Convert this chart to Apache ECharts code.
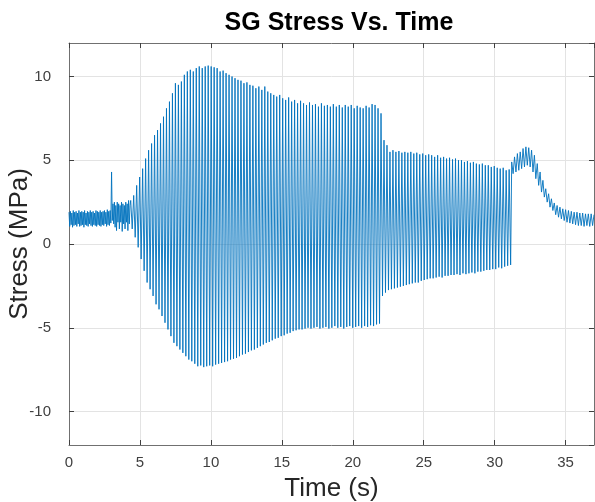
<!DOCTYPE html>
<html>
<head>
<meta charset="utf-8">
<script src="https://cdn.jsdelivr.net/npm/echarts@6/dist/echarts.min.js"></script>
<style>
html,body{margin:0;padding:0;background:#fff;}
#chart{width:595px;height:502px;}
</style>
</head>
<body>
<div id="chart"></div>
<script>
// ---- Data ----
const titleText = 'SG Stress Vs. Time';
const xName = 'Time (s)';
const yName = 'Stress (MPa)';
const xTicks = [0, 5, 10, 15, 20, 25, 30, 35];
const yTicks = [-10, -5, 0, 5, 10];

// quiet start (0 s to 4.30 s, every 0.05 s), spike at 3.0 s
const preStart = 0;
const preStep = 0.05;
const preValues = [
  1.9,1.05,1.95,1.15,1.85,1.0,2.0,1.1,1.9,1.15,1.95,1.05,1.85,1.2,2.0,1.05,1.9,1.1,1.95,1.15,
  1.9,1.0,2.0,1.15,1.85,1.1,1.95,1.05,1.9,1.2,2.0,1.1,1.9,1.05,1.95,1.15,1.85,1.1,2.0,1.05,
  1.95,1.15,1.9,1.1,2.0,1.05,1.9,1.15,1.95,1.1,2.0,1.2,1.9,1.05,2.05,1.15,1.95,1.1,2.0,1.25,
  4.3,1.4,2.4,1.2,2.5,1.0,2.3,0.8,2.5,1.3,2.4,0.9,2.3,1.3,2.5,0.75,2.4,1.2,2.3,0.9,
  2.5,1.3,2.4,0.8,2.6,1.2,2.3
];

// big oscillation: one peak and one trough per cycle
const cycleStart = 4.35;
const cyclePeriod = 0.21;
const peakValues = [
  2.6,2.9,3.5,4.0,4.5,5.1,5.6,6.0,6.5,6.8,
  7.2,7.6,8.1,8.5,9.0,9.6,9.5,9.7,10.1,10.3,
  10.4,10.3,10.5,10.6,10.5,10.6,10.65,10.6,10.55,10.5,
  10.3,10.35,10.2,10.1,10.0,9.9,9.8,9.75,9.6,9.65,
  9.5,9.45,9.3,9.4,9.2,9.4,9.1,9.0,8.9,8.8,
  8.9,8.7,8.6,8.75,8.5,8.6,8.4,8.55,8.4,8.3,
  8.45,8.3,8.35,8.2,8.4,8.25,8.3,8.2,8.35,8.2,
  8.3,8.15,8.3,8.2,8.3,8.1,8.25,8.15,8.1,8.25,
  8.15,8.35,8.3,8.1,7.8,6.2,5.9,5.5,5.6,5.5,
  5.55,5.45,5.5,5.45,5.5,5.4,5.45,5.35,5.4,5.3,
  5.35,5.3,5.2,5.3,5.15,5.2,5.1,5.15,5.05,5.1,
  5.0,5.0,4.9,4.95,4.85,4.9,4.8,4.75,4.8,4.7,
  4.7,4.6,4.65,4.55,4.5,4.55,4.4,4.45
];
const troughValues = [
  0.9,0.4,-0.2,-0.9,-1.6,-2.3,-2.7,-3.1,-3.6,-3.9,
  -4.3,-4.7,-5.1,-5.5,-5.9,-6.1,-6.3,-6.5,-6.7,-6.9,
  -7.0,-7.15,-7.3,-7.25,-7.35,-7.3,-7.25,-7.3,-7.2,-7.15,
  -7.1,-7.05,-7.0,-6.9,-6.85,-6.8,-6.7,-6.6,-6.55,-6.45,
  -6.35,-6.3,-6.2,-6.1,-6.0,-5.9,-5.85,-5.75,-5.65,-5.6,
  -5.5,-5.45,-5.35,-5.3,-5.2,-5.15,-5.1,-5.1,-5.05,-5.0,
  -5.05,-5.0,-4.95,-5.05,-5.0,-4.95,-5.05,-5.0,-4.9,-5.0,
  -4.95,-5.05,-4.95,-4.9,-5.0,-4.95,-4.9,-5.0,-4.9,-4.95,
  -4.85,-4.9,-4.8,-4.75,-3.1,-2.9,-2.75,-2.7,-2.65,-2.6,
  -2.55,-2.5,-2.45,-2.4,-2.35,-2.3,-2.3,-2.2,-2.15,-2.1,
  -2.05,-2.05,-2.0,-1.95,-2.0,-1.9,-1.9,-1.85,-1.85,-1.8,
  -1.85,-1.75,-1.8,-1.75,-1.7,-1.75,-1.65,-1.65,-1.6,-1.55,
  -1.55,-1.5,-1.5,-1.4,-1.45,-1.35,-1.3,-1.25
];

// bump and settling tail (31.2 s to 37.0 s, every 0.1 s)
const tailStart = 31.2;
const tailStep = 0.1;
const tailValues = [
  4.9,4.2,5.2,4.3,5.4,4.4,5.5,4.5,5.7,4.6,
  5.8,4.7,5.75,4.6,5.6,4.3,5.3,3.9,4.8,3.5,
  4.3,3.1,3.8,2.8,3.3,2.5,3.0,2.2,2.7,2.0,
  2.45,1.75,2.3,1.6,2.2,1.5,2.1,1.4,2.05,1.3,
  2.0,1.25,1.95,1.2,1.9,1.15,1.9,1.1,1.85,1.1,
  1.85,1.05,1.8,1.1,1.8,1.05,1.8,1.1,1.75
];

// ---- build series points ----
const points = [];
preValues.forEach((v, i) => points.push([+(preStart + i * preStep).toFixed(3), v]));
peakValues.forEach((v, i) => {
  const t = cycleStart + i * cyclePeriod;
  points.push([+t.toFixed(3), v]);
  points.push([+(t + cyclePeriod / 2).toFixed(3), troughValues[i]]);
});
tailValues.forEach((v, i) => points.push([+(tailStart + i * tailStep).toFixed(3), v]));

const FONT = 'Liberation Sans, Arial, Helvetica, sans-serif';
const frameColor = '#707070';
const gridColor = '#e3e3e3';
const labelColor = '#404040';

const chart = echarts.init(document.getElementById('chart'), null, {renderer: 'canvas'});
chart.setOption({
  animation: false,
  backgroundColor: '#ffffff',
  title: {
    text: titleText,
    left: 334,
    textAlign: 'center',
    top: 6,
    textStyle: {fontFamily: FONT, fontSize: 25, fontWeight: 'bold', color: '#000'}
  },
  grid: {left: 69, right: 1, top: 43, bottom: 57, containLabel: false, outerBoundsMode: 'none'},
  xAxis: [{
    type: 'value', min: 0, max: 37, interval: 5, position: 'bottom',
    name: xName, nameLocation: 'middle', nameGap: 31, nameMoveOverlap: false,
    nameTextStyle: {fontFamily: FONT, fontSize: 26, color: '#262626'},
    axisLine: {show: true, onZero: false, lineStyle: {color: frameColor, width: 1}},
    axisTick: {show: true, inside: true, length: 5, lineStyle: {color: '#404040'}},
    axisLabel: {fontFamily: FONT, fontSize: 15, color: labelColor, margin: 10, showMaxLabel: false,
      formatter: v => (xTicks.indexOf(v) >= 0 ? String(v) : '')},
    splitLine: {show: true, lineStyle: {color: gridColor, width: 1}}
  }, {
    type: 'value', min: 0, max: 37, interval: 5, position: 'top',
    axisLine: {show: true, onZero: false, lineStyle: {color: frameColor, width: 1}},
    axisTick: {show: true, inside: true, length: 5, lineStyle: {color: '#404040'}},
    axisLabel: {show: false},
    splitLine: {show: false}
  }],
  yAxis: [{
    type: 'value', min: -12, max: 12, position: 'left',
    name: yName, nameLocation: 'middle', nameGap: 36, nameRotate: 90, nameMoveOverlap: false,
    nameTextStyle: {fontFamily: FONT, fontSize: 26, color: '#262626'},
    axisLine: {show: true, onZero: false, lineStyle: {color: frameColor, width: 1}},
    axisTick: {show: true, inside: true, length: 5, lineStyle: {color: '#404040'}},
    axisLabel: {fontFamily: FONT, fontSize: 15, color: labelColor, margin: 18,
      showMinLabel: false, showMaxLabel: false,
      formatter: v => (yTicks.indexOf(v) >= 0 ? String(v) : '')},
    splitLine: {show: true, lineStyle: {color: gridColor, width: 1}}
  }, {
    type: 'value', min: -12, max: 12, position: 'right',
    axisLine: {show: true, onZero: false, lineStyle: {color: frameColor, width: 1}},
    axisTick: {show: true, inside: true, length: 5, lineStyle: {color: '#404040'}},
    axisLabel: {show: false},
    splitLine: {show: false}
  }],
  series: [{
    type: 'line',
    data: points,
    xAxisIndex: 0, yAxisIndex: 0,
    showSymbol: false, symbol: 'none',
    sampling: null,
    lineStyle: {color: '#0072BD', width: 0.9},
    z: 3
  }]
});
</script>
</body>
</html>
